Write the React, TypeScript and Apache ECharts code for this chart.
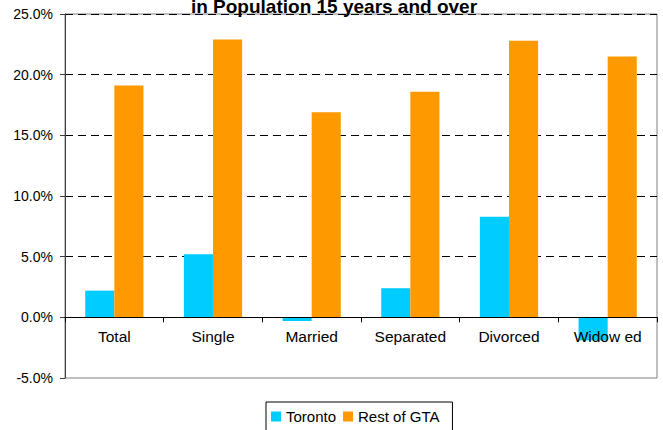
import React, { useEffect, useRef } from "react";
import * as echarts from "echarts";

const categories = ["Total", "Single", "Married", "Separated", "Divorced", "Widow ed"];
const toronto = [2.2, 5.2, -0.3, 2.4, 8.3, -1.9];
const restOfGTA = [19.1, 22.9, 16.9, 18.6, 22.8, 21.5];
const titleText = "in Population 15 years and over";

export default function App() {
  const ref = useRef<HTMLDivElement>(null);
  useEffect(() => {
    if (!ref.current) return;
    const chart = echarts.init(ref.current, null, { renderer: "svg" });
    const font = "Arial, 'Liberation Sans', sans-serif";
    chart.setOption({
      animation: false,
      backgroundColor: "#fff",
      textStyle: { fontFamily: font },
      title: {
        text: titleText,
        left: 329,
        top: -8,
        textAlign: "center",
        textStyle: { fontSize: 19, fontWeight: "bold", color: "#000", fontFamily: font },
      },
      grid: {
        left: 65,
        right: 6,
        top: 14,
        bottom: 52,
        show: true,
        borderColor: "#808080",
        borderWidth: 1,
      },
      legend: {
        data: ["Toronto", "Rest of GTA"],
        left: 266,
        top: 402,
        itemWidth: 10,
        itemHeight: 10,
        itemGap: 7,
        icon: "rect",
        borderColor: "#000",
        borderWidth: 1,
        borderRadius: 0,
        padding: [7, 13, 20, 5],
        textStyle: { fontSize: 15, color: "#000", fontFamily: font },
      },
      xAxis: {
        type: "category",
        data: categories,
        z: 3,
        axisLine: { onZero: true, lineStyle: { color: "#000", width: 1 } },
        axisTick: { show: true, length: 5, inside: false, lineStyle: { color: "#000" } },
        axisLabel: { fontSize: 15.5, color: "#000", margin: -50, fontFamily: font },
      },
      yAxis: {
        type: "value",
        min: -5,
        max: 25,
        interval: 5,
        axisLine: { show: true, lineStyle: { color: "#404040" } },
        axisTick: { show: true, length: 5, lineStyle: { color: "#404040" } },
        axisLabel: {
          fontSize: 14,
          color: "#000",
          margin: 12,
          fontFamily: font,
          formatter: (v: number) => v.toFixed(1) + "%",
        },
        splitLine: {
          show: true,
          lineStyle: {
            color: ["transparent", "transparent", "#000", "#000", "#000", "#000", "#000"],
            type: [8, 5],
            width: 1,
          },
        },
      },
      series: [
        {
          name: "Toronto",
          type: "bar",
          data: toronto,
          itemStyle: { color: "#00CCFF" },
          barGap: "0%",
          barCategoryGap: "41%",
        },
        {
          name: "Rest of GTA",
          type: "bar",
          data: restOfGTA,
          itemStyle: { color: "#FF9900" },
          barGap: "0%",
          barCategoryGap: "41%",
        },
      ],
    });
    return () => chart.dispose();
  }, []);
  return (
    <div
      ref={ref}
      style={{ position: "fixed", left: 0, top: 0, width: 663, height: 430 }}
    />
  );
}
